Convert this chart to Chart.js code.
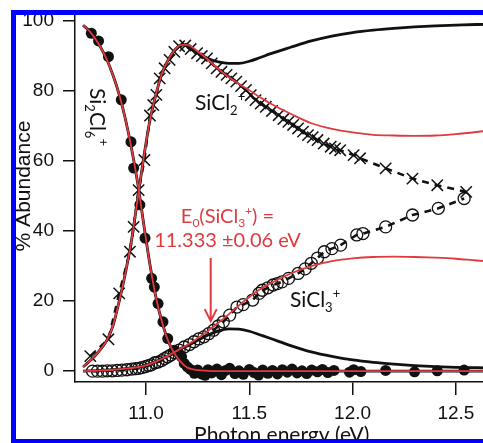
<!DOCTYPE html>
<html>
<head>
<meta charset="utf-8">
<script src="https://cdn.jsdelivr.net/npm/chart.js@4"></script>
<style>
  html, body { margin: 0; padding: 0; background: #fff; overflow: hidden; }
</style>
</head>
<body>
<canvas id="chart" width="498" height="443"></canvas>
<script>
// energy grid shared by the fitted / modelled curves (eV)
const curveEnergy = [10.695, 10.72, 10.75, 10.78, 10.81, 10.84, 10.87, 10.90, 10.93, 10.96, 10.99, 11.02, 11.05, 11.08, 11.11, 11.14, 11.17, 11.20, 11.25, 11.30, 11.35, 11.40, 11.45, 11.50, 11.55, 11.60, 11.70, 11.80, 11.90, 12.00, 12.10, 12.20, 12.30, 12.40, 12.50, 12.60, 12.70];

// red fits
const fitSi2Cl6 = [98.8, 97.5, 95.3, 92.5, 89.0, 84.5, 79.0, 72.0, 63.5, 53.5, 41.5, 30.0, 20.5, 13.5, 8.2, 4.8, 2.5, 1.0, 0.3, 0.1, 0, 0, 0, 0, 0, 0, 0, 0, 0, 0, 0, 0, 0, 0, 0, 0, 0];
const fitSiCl2 = [1.2, 2.5, 4.2, 6.3, 8.8, 13.0, 20.0, 28.0, 37.5, 49.5, 61.5, 72.0, 79.5, 85.5, 89.2, 91.8, 93.2, 93.2, 91.3, 89.0, 86.3, 84.0, 82.0, 80.2, 78.3, 76.5, 73.5, 70.8, 69.2, 68.2, 67.5, 67.3, 67.2, 67.3, 67.7, 68.3, 69.0];
const fitSiCl3 = [0.0, 0.05, 0.1, 0.2, 0.3, 0.4, 0.55, 0.7, 0.9, 1.15, 1.5, 2.1, 2.8, 3.6, 4.5, 5.5, 6.5, 7.5, 9.4, 11.5, 13.8, 16.2, 18.8, 21.2, 23.3, 25.0, 27.9, 30.0, 31.4, 32.2, 32.6, 32.7, 32.6, 32.4, 32.1, 31.6, 31.2];

// black model curves
const modelSi2Cl6 = [98.8, 97.5, 95.3, 92.5, 89.0, 84.5, 79.0, 72.0, 63.5, 53.5, 41.5, 30.0, 20.5, 13.5, 8.2, 4.8, 2.5, 1.0, 0.3, 0.1, 0, 0, 0, 0, 0, 0, 0, 0, 0, 0, 0, 0, 0, 0, 0, 0, 0];
const modelSiCl2 = [1.2, 2.5, 4.2, 6.3, 8.8, 13.0, 20.0, 28.0, 37.5, 49.5, 61.5, 72.0, 79.5, 85.5, 89.2, 91.8, 93.2, 93.2, 90.9, 89.3, 88.3, 87.9, 87.9, 88.5, 89.5, 90.6, 92.5, 94.3, 95.7, 96.7, 97.4, 97.9, 98.3, 98.6, 98.8, 99.0, 99.1];
const modelSiCl3 = [0.0, 0.05, 0.1, 0.2, 0.3, 0.4, 0.55, 0.7, 0.9, 1.15, 1.5, 2.1, 2.8, 3.6, 4.5, 5.5, 6.5, 7.2, 8.8, 10.3, 11.5, 12.1, 12.0, 11.4, 10.4, 9.4, 7.3, 5.5, 4.2, 3.2, 2.5, 2.0, 1.6, 1.3, 1.1, 1.0, 0.9];

// measured breakdown data
const si2cl6Energy = [10.735, 10.770, 10.818, 10.880, 10.927, 10.940, 10.970, 10.995, 11.027, 11.040, 11.058, 11.082, 11.105, 11.137, 11.160, 11.172, 11.185, 11.200, 11.215, 11.234, 11.250, 11.268, 11.286, 11.300, 11.318, 11.343, 11.365, 11.385, 11.405, 11.430, 11.450, 11.471, 11.500, 11.523, 11.545, 11.565, 11.590, 11.612, 11.636, 11.660, 11.684, 11.707, 11.731, 11.755, 11.778, 11.802, 11.830, 11.854, 11.880, 11.910, 11.985, 12.005, 12.040, 12.160, 12.300, 12.410, 12.540];
const si2cl6Abund = [96.5, 94.3, 89.8, 77.5, 65.5, 58.0, 47.5, 38.0, 26.5, 24.0, 19.3, 14.1, 9.3, 6.0, 5.0, 4.1, 2.2, 1.2, 0.5, -0.6, 0.3, -0.8, -1.2, 0.4, -0.5, 0.6, -1.0, 0.2, 0.8, -0.7, 0.1, -0.9, 0.5, -0.4, -1.1, 0.3, -0.6, 0.2, -0.8, 0.4, -0.3, 0.6, -0.5, 0.1, -0.7, 0.3, -0.2, 0.5, -0.4, 0.2, -0.3, 0.4, -0.1, 0.2, -0.2, 0.1, 0.3];

const sicl2Energy = [10.730, 10.818, 10.870, 10.922, 10.940, 10.964, 10.992, 11.019, 11.035, 11.050, 11.066, 11.090, 11.114, 11.137, 11.160, 11.190, 11.216, 11.247, 11.270, 11.295, 11.318, 11.342, 11.365, 11.390, 11.413, 11.437, 11.460, 11.484, 11.507, 11.530, 11.555, 11.580, 11.610, 11.642, 11.665, 11.689, 11.712, 11.736, 11.760, 11.784, 11.807, 11.830, 11.860, 11.894, 11.915, 11.940, 12.005, 12.036, 12.160, 12.290, 12.410, 12.550];
const sicl2Abund = [4.3, 9.1, 22.2, 34.1, 41.2, 51.7, 60.3, 73.0, 76.0, 78.9, 83.6, 86.5, 88.9, 91.2, 92.8, 93.0, 92.0, 90.8, 90.0, 89.3, 87.9, 86.5, 85.5, 84.6, 83.6, 82.7, 81.4, 80.3, 78.8, 77.4, 76.4, 75.5, 74.3, 73.1, 72.0, 71.2, 70.3, 69.3, 68.4, 67.4, 66.8, 66.0, 65.0, 64.1, 63.6, 63.1, 61.7, 60.8, 57.9, 55.0, 53.1, 51.2];

const sicl3Energy = [10.741, 10.765, 10.789, 10.812, 10.836, 10.860, 10.883, 10.907, 10.931, 10.950, 10.964, 10.980, 10.997, 11.012, 11.025, 11.043, 11.058, 11.075, 11.090, 11.105, 11.120, 11.137, 11.160, 11.185, 11.210, 11.232, 11.255, 11.280, 11.303, 11.327, 11.350, 11.374, 11.405, 11.440, 11.470, 11.516, 11.547, 11.563, 11.590, 11.615, 11.635, 11.658, 11.690, 11.736, 11.770, 11.800, 11.830, 11.863, 11.900, 11.942, 12.020, 12.050, 12.160, 12.290, 12.415, 12.540];
const sicl3Abund = [0.0, 0.0, 0.0, 0.1, 0.1, 0.2, 0.3, 0.4, 0.6, 0.7, 0.8, 1.0, 1.3, 1.6, 1.8, 2.4, 2.6, 3.0, 3.6, 4.1, 4.6, 5.3, 6.0, 6.9, 7.6, 8.4, 9.2, 9.8, 10.7, 11.7, 12.9, 14.1, 16.0, 18.3, 19.0, 20.3, 22.2, 23.1, 23.8, 24.6, 25.0, 25.5, 26.5, 27.9, 29.2, 30.8, 32.3, 34.1, 35.0, 36.0, 38.9, 39.3, 41.2, 44.6, 46.5, 49.3];

const xTicks = [11.0, 11.5, 12.0, 12.5];
const yTicks = [0, 20, 40, 60, 80, 100];

// E0 arrow (energy, top and tip abundance)
const arrowEnergy = 11.313;
const arrowTop = 32.3;
const arrowTip = 14.3;

const RED = '#e03a3e';
const INK = '#111';

const pts = (xs, ys) => xs.map((x, i) => ({ x: x, y: ys[i] }));

const curve = (ys, color, width) => ({
  data: pts(curveEnergy, ys),
  showLine: true,
  borderColor: color,
  borderWidth: width,
  pointRadius: 0,
  cubicInterpolationMode: 'monotone',
  fill: false
});

// draws text with sub (1) / superscript (-1) parts from a baseline-left origin
function chemText(ctx, parts, size, family, draw) {
  let x = 0;
  parts.forEach(([t, s]) => {
    const fs = s === 0 ? size : Math.round(size * 0.62);
    ctx.font = fs + 'px ' + family;
    const dy = s === 1 ? size * 0.22 : s === -1 ? -size * 0.42 : 0;
    if (draw) ctx.fillText(t, x, dy);
    x += ctx.measureText(t).width;
  });
  return x;
}

const labelsPlugin = {
  id: 'labels',
  afterDatasetsDraw(chart) {
    const ctx = chart.ctx;
    const xs = chart.scales.x, ys = chart.scales.y;
    ctx.save();
    ctx.textAlign = 'left';
    ctx.textBaseline = 'alphabetic';

    // species labels
    ctx.fillStyle = INK;
    ctx.save();
    ctx.translate(195, 110);
    chemText(ctx, [['SiCl', 0], ['2', 1], ['+', -1]], 21, 'Lato', true);
    ctx.restore();

    ctx.save();
    ctx.translate(290, 307);
    chemText(ctx, [['SiCl', 0], ['3', 1], ['+', -1]], 21, 'Lato', true);
    ctx.restore();

    ctx.save();
    ctx.translate(90, 88);
    ctx.rotate(Math.PI / 2);
    chemText(ctx, [['Si', 0], ['2', 1], ['Cl', 0], ['6', 1], ['+', -1]], 21, 'Lato', true);
    ctx.restore();

    // E0 annotation
    ctx.fillStyle = RED;
    const line1 = [['E', 0], ['0', 1], ['(SiCl', 0], ['3', 1], ['+', -1], [') =', 0]];
    const w1 = chemText(ctx, line1, 20, 'Lato', false);
    ctx.save();
    ctx.translate(227.5 - w1 / 2, 223);
    chemText(ctx, line1, 20, 'Lato', true);
    ctx.restore();
    ctx.font = '20px Lato';
    ctx.textAlign = 'center';
    ctx.fillText('11.333 \u00b10.06 eV', 227.5, 247);

    // arrow
    const ax = xs.getPixelForValue(arrowEnergy);
    const ay1 = ys.getPixelForValue(arrowTop);
    const ay2 = ys.getPixelForValue(arrowTip);
    ctx.strokeStyle = RED;
    ctx.lineWidth = 2;
    ctx.beginPath();
    ctx.moveTo(ax, ay1);
    ctx.lineTo(ax, ay2);
    ctx.moveTo(ax - 6, ay2 - 12);
    ctx.lineTo(ax, ay2);
    ctx.lineTo(ax + 6, ay2 - 12);
    ctx.stroke();

    // y axis title
    ctx.fillStyle = INK;
    ctx.font = '21px "Liberation Sans", Arial, sans-serif';
    ctx.textAlign = 'center';
    ctx.textBaseline = 'middle';
    ctx.translate(24.5, 186);
    ctx.rotate(-Math.PI / 2);
    ctx.fillText('% Abundance', 0, 0);
    ctx.restore();
  },
  afterDraw(chart) {
    // blue frame of the figure
    const ctx = chart.ctx;
    ctx.save();
    ctx.fillStyle = '#0000ff';
    ctx.fillRect(11, 10, chart.width, 5);
    ctx.fillRect(11, 10, 5, chart.height);
    ctx.fillRect(11, 439, chart.width, 5);
    ctx.restore();
  }
};

new Chart(document.getElementById('chart'), {
  type: 'scatter',
  data: {
    datasets: [
      curve(fitSi2Cl6, RED, 1.8),
      curve(fitSiCl2, RED, 1.8),
      curve(fitSiCl3, RED, 1.8),
      curve(modelSi2Cl6, INK, 2.8),
      curve(modelSiCl2, INK, 2.8),
      curve(modelSiCl3, INK, 2.8),
      {
        data: pts(si2cl6Energy, si2cl6Abund),
        showLine: false,
        pointStyle: 'circle',
        pointRadius: 5.5,
        pointBackgroundColor: INK,
        pointBorderColor: INK,
        pointBorderWidth: 0
      },
      {
        data: pts(sicl2Energy, sicl2Abund),
        showLine: true,
        borderColor: INK,
        borderWidth: 2.6,
        borderDash: [7, 6],
        pointStyle: 'crossRot',
        pointRadius: 8,
        pointBorderColor: INK,
        pointBorderWidth: 1.5
      },
      {
        data: pts(sicl3Energy, sicl3Abund),
        showLine: true,
        borderColor: INK,
        borderWidth: 2.6,
        borderDash: [7, 6],
        pointStyle: 'circle',
        pointRadius: 6,
        pointBackgroundColor: 'rgba(0,0,0,0)',
        pointBorderColor: INK,
        pointBorderWidth: 1.3
      }
    ]
  },
  options: {
    responsive: false,
    animation: false,
    events: [],
    layout: { padding: { top: 15.75, left: 0, right: 0, bottom: 0 } },
    plugins: { legend: { display: false }, tooltip: { enabled: false } },
    scales: {
      x: {
        type: 'linear',
        min: 10.656,
        max: 12.658,
        afterBuildTicks: s => { s.ticks = xTicks.map(v => ({ value: v })); },
        afterFit: s => { s.height = 61; s.paddingLeft = 0; s.paddingRight = 0; },
        border: { display: true, color: INK, width: 1.5 },
        grid: { drawOnChartArea: false, drawTicks: true, tickLength: 13, color: INK, lineWidth: 1.5 },
        ticks: {
          color: INK,
          padding: 7,
          maxRotation: 0,
          font: { family: '"Liberation Sans", Arial, sans-serif', size: 19 },
          callback: v => v.toFixed(1)
        },
        title: {
          display: true,
          text: 'Photon energy (eV)',
          color: INK,
          font: { family: 'Lato', size: 21 },
          padding: { top: 0, bottom: -5 }
        }
      },
      y: {
        type: 'linear',
        min: -3.1,
        max: 101.5,
        afterBuildTicks: s => { s.ticks = yTicks.map(v => ({ value: v })); },
        afterFit: s => { s.width = 75; s.paddingTop = 0; s.paddingBottom = 0; },
        border: { display: true, color: INK, width: 1.5 },
        grid: { drawOnChartArea: false, drawTicks: true, tickLength: 12, color: INK, lineWidth: 1.5 },
        ticks: {
          color: INK,
          padding: 9,
          font: { family: '"Liberation Sans", Arial, sans-serif', size: 19 },
          callback: v => v
        }
      }
    }
  },
  plugins: [labelsPlugin]
});
</script>
</body>
</html>
